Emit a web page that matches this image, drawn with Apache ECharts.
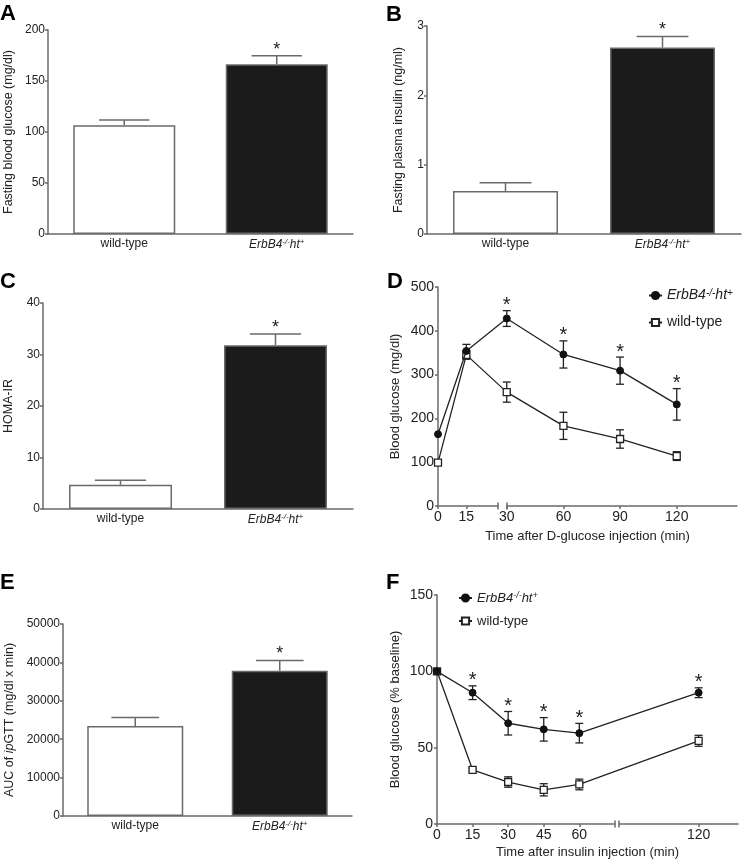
<!DOCTYPE html>
<html><head><meta charset="utf-8">
<script src="https://cdn.jsdelivr.net/npm/echarts@6/dist/echarts.min.js"></script>
<style>html,body{margin:0;padding:0;background:#fff}#c{width:742px;height:862px}</style>
</head><body><div id="c"></div>
<script>
// ---------------- data ----------------
const groups = ['wild-type', 'ErbB4-/-ht+'];
const barSig = [false, true];
const glucoseMean = [106.6, 166.4], glucoseErr = [5.2, 8.4];
const insulinMean = [0.62, 2.69], insulinErr = [0.12, 0.16];
const homaMean = [4.7, 31.8], homaErr = [0.9, 2.2];
const aucMean = [23450, 37820], aucErr = [2170, 2700];

const gttTimes = [0, 15, 30, 60, 90, 120];
const gttErb = [164, 354, 428, 346, 309, 232];
const gttErbErr = [0, 15, 18, 31, 31, 36];
const gttWT = [99, 345, 260, 183, 153, 114];
const gttWTErr = [0, 10, 23, 31, 21, 10];
const gttSig = [false, false, true, true, true, true];
const gttTicks = [0, 15, 30, 60, 90, 120];

const ittTimes = [0, 15, 30, 45, 60, 120];
const ittErb = [100, 86, 66, 62, 59.5, 86];
const ittErbErr = [0, 4.5, 7.7, 7.7, 6.4, 3.2];
const ittWT = [100, 35.5, 27.5, 22.4, 25.9, 54.5];
const ittWTErr = [0, 1, 3.4, 4, 3.5, 3.6];
const ittSig = [false, true, true, true, true, true];
const ittTicks = [0, 15, 30, 45, 60, 120];

// broken time axes: times after the break point are drawn shifted
const gttBreak = { at: 15, shift: 6.4 };
const ittBreak = { at: 60, shift: -9.7 };
function brk(b, t) { return t > b.at ? t + b.shift : t; }

// ---------------- styling helpers ----------------
const FONT = '"Liberation Sans", Arial, Helvetica, sans-serif';
const AX = '#6a6a6a', TXT = '#222', LINE = '#222';
const grids = [], xAxes = [], yAxes = [], series = [];
function addGrid(g) { grids.push(Object.assign({ containLabel: false, outerBoundsMode: 'none' }, g)); return grids.length - 1; }
const erbRich = '{i|ErbB4}{s|-/-}{i|ht}{s|+}';
function richFor(fs) {
  return {
    i: { fontStyle: 'italic', fontSize: fs, fontFamily: FONT, color: TXT },
    s: { fontStyle: 'italic', fontSize: Math.round(fs * 0.68), fontFamily: FONT, color: TXT, verticalAlign: 'top', padding: [0, 0, 5, 0] }
  };
}
const axLine = { show: true, lineStyle: { color: AX, width: 1.5 } };
const axTick = { show: true, length: 3, lineStyle: { color: AX, width: 1.5 } };

function barErr(params, api) {
  const i = api.value(0), m = api.value(1), e = api.value(2), s = api.value(3);
  const p0 = api.coord([i, m]), p1 = api.coord([i, m + e]);
  const half = api.size([1, 0])[0] * 0.165;
  const st = { stroke: AX, lineWidth: 1.5 };
  const ch = [
    { type: 'line', shape: { x1: p0[0], y1: p0[1], x2: p1[0], y2: p1[1] }, style: st },
    { type: 'line', shape: { x1: p1[0] - half, y1: p1[1], x2: p1[0] + half, y2: p1[1] }, style: st }
  ];
  if (s) ch.push({ type: 'text', x: p1[0], y: p1[1] + 3, style: { text: '*', fontSize: 18, fontFamily: FONT, fill: TXT, align: 'center', verticalAlign: 'bottom' } });
  return { type: 'group', children: ch };
}
function lineErr(params, api) {
  const x = api.value(0), m = api.value(1), e = api.value(2), s = api.value(3);
  const pt = api.coord([x, m + e]), pb = api.coord([x, m - e]);
  const st = { stroke: LINE, lineWidth: 1.3 };
  const ch = [];
  if (e > 0) {
    ch.push({ type: 'line', shape: { x1: pt[0], y1: pt[1], x2: pb[0], y2: pb[1] }, style: st });
    ch.push({ type: 'line', shape: { x1: pt[0] - 4, y1: pt[1], x2: pt[0] + 4, y2: pt[1] }, style: st });
    ch.push({ type: 'line', shape: { x1: pb[0] - 4, y1: pb[1], x2: pb[0] + 4, y2: pb[1] }, style: st });
  }
  if (s) ch.push({ type: 'text', x: pt[0], y: pt[1] + 5, style: { text: '*', fontSize: 20, fontFamily: FONT, fill: TXT, align: 'center', verticalAlign: 'bottom' } });
  return { type: 'group', children: ch };
}

function barPanel(box, yMax, yInt, yName, nameGap, means, errs, barW, nameRich) {
  const g = addGrid(box);
  xAxes.push({
    type: 'category', gridIndex: g, data: groups, axisLine: axLine, axisTick: { show: false },
    axisLabel: { interval: 0, color: TXT, fontFamily: FONT, fontSize: 12, margin: 4, formatter: v => v === groups[1] ? erbRich : v, rich: richFor(12) }
  });
  const xi = xAxes.length - 1;
  yAxes.push({
    type: 'value', gridIndex: g, min: 0, max: yMax, interval: yInt, splitLine: { show: false },
    axisLine: axLine, axisTick: axTick,
    axisLabel: { color: TXT, fontFamily: FONT, fontSize: 12, margin: 3, formatter: v => String(v) },
    name: yName, nameLocation: 'middle', nameGap: nameGap,
    nameTextStyle: { color: TXT, fontFamily: FONT, fontSize: 12.5, rich: nameRich || {} }
  });
  const yi = yAxes.length - 1;
  series.push({
    type: 'bar', xAxisIndex: xi, yAxisIndex: yi, barWidth: barW, animation: false,
    data: means.map((m, i) => ({ value: m, itemStyle: { color: i ? '#1b1b1b' : '#fff', borderColor: AX, borderWidth: 1.5 } }))
  });
  series.push({
    type: 'custom', xAxisIndex: xi, yAxisIndex: yi, z: 3, animation: false, renderItem: barErr,
    data: means.map((m, i) => [i, m, errs[i], barSig[i] ? 1 : 0])
  });
}

function linePanel(box, segs, xMax, ticks, b, yMax, yInt, yName, yNameGap, xName, xNameGap, times, erb, erbErr, wt, wtErr, sig) {
  const g = addGrid(box);
  const tickPos = ticks.map(t => brk(b, t));
  xAxes.push({
    type: 'value', gridIndex: g, min: 0, max: xMax, splitLine: { show: false },
    axisLine: { show: false },
    axisTick: { show: true, length: 3, lineStyle: { color: AX, width: 1.5 }, customValues: tickPos },
    axisLabel: {
      color: TXT, fontFamily: FONT, fontSize: 14, margin: 4, customValues: tickPos,
      formatter: v => { const k = tickPos.findIndex(p => Math.abs(p - v) < 1e-6); return k < 0 ? '' : String(ticks[k]); }
    },
    name: xName, nameLocation: 'middle', nameGap: xNameGap,
    nameTextStyle: { color: TXT, fontFamily: FONT, fontSize: 13 }
  });
  const xi = xAxes.length - 1;
  yAxes.push({
    type: 'value', gridIndex: g, min: 0, max: yMax, interval: yInt, splitLine: { show: false },
    axisLine: axLine, axisTick: axTick,
    axisLabel: { color: TXT, fontFamily: FONT, fontSize: 14, margin: 4 },
    name: yName, nameLocation: 'middle', nameGap: yNameGap,
    nameTextStyle: { color: TXT, fontFamily: FONT, fontSize: 13 }
  });
  const yi = yAxes.length - 1;
  // broken axis line segments
  segs.forEach((s, k) => {
    const sg = addGrid({ left: s.left, width: s.width, top: box.top, height: box.height });
    xAxes.push({
      type: 'value', gridIndex: sg, min: 0, max: 1, splitLine: { show: false }, axisTick: { show: false }, axisLabel: { show: false },
      axisLine: { show: true, lineStyle: { color: AX, width: 1.5 }, symbol: k === 0 ? ['none', 'rect'] : ['rect', 'none'], symbolSize: [7, 1.5] }
    });
    yAxes.push({ type: 'value', gridIndex: sg, min: 0, max: 1, show: false });
  });
  const wtName = groups[0], erbName = groups[1];
  series.push({
    type: 'custom', xAxisIndex: xi, yAxisIndex: yi, z: 1, animation: false, renderItem: lineErr,
    data: times.map((t, i) => [brk(b, t), wt[i], wtErr[i], 0])
  });
  series.push({
    type: 'custom', xAxisIndex: xi, yAxisIndex: yi, z: 1, animation: false, renderItem: lineErr,
    data: times.map((t, i) => [brk(b, t), erb[i], erbErr[i], sig[i] ? 1 : 0])
  });
  series.push({
    type: 'line', name: wtName, xAxisIndex: xi, yAxisIndex: yi, z: 2, animation: false,
    data: times.map((t, i) => [brk(b, t), wt[i]]),
    symbol: 'rect', symbolSize: 7, lineStyle: { color: LINE, width: 1.3 },
    itemStyle: { color: '#fff', borderColor: LINE, borderWidth: 1.3 }
  });
  series.push({
    type: 'line', name: erbName, xAxisIndex: xi, yAxisIndex: yi, z: 3, animation: false,
    data: times.map((t, i) => [brk(b, t), erb[i]]),
    symbol: 'circle', symbolSize: 7, lineStyle: { color: LINE, width: 1.3 },
    itemStyle: { color: '#111', borderColor: '#111', borderWidth: 1 }
  });
}

// ---------------- panels ----------------
barPanel({ left: 48, top: 30, width: 305, height: 204 }, 200, 50, 'Fasting blood glucose (mg/dl)', 33, glucoseMean, glucoseErr, 102);
barPanel({ left: 427, top: 26, width: 314, height: 208 }, 3, 1, 'Fasting plasma insulin (ng/ml)', 22, insulinMean, insulinErr, 105);
barPanel({ left: 43, top: 303, width: 310, height: 206 }, 40, 10, 'HOMA-IR', 28, homaMean, homaErr, 103);
barPanel({ left: 63, top: 624, width: 289, height: 192 }, 50000, 10000, '{n|AUC of }{it|ip}{n|GTT (mg/dl x min)}', 47, aucMean, aucErr, 96,
  { n: { fontFamily: FONT, fontSize: 12.5, color: TXT }, it: { fontFamily: FONT, fontSize: 12.5, color: TXT, fontStyle: 'italic' } });

linePanel({ left: 438, top: 287, width: 299, height: 219 },
  [{ left: 438, width: 60 }, { left: 507, width: 230 }], 158.3, gttTicks, gttBreak,
  500, 100, 'Blood glucose (mg/dl)', 36, 'Time after D-glucose injection (min)', 24,
  gttTimes, gttErb, gttErbErr, gttWT, gttWTErr, gttSig);

linePanel({ left: 437, top: 595, width: 301, height: 229 },
  [{ left: 437, width: 178 }, { left: 619, width: 119 }], 126.9, ittTicks, ittBreak,
  150, 50, 'Blood glucose (% baseline)', 35, 'Time after insulin injection (min)', 22,
  ittTimes, ittErb, ittErbErr, ittWT, ittWTErr, ittSig);

const legendFmt = n => n === groups[1] ? erbRich : n;
const legends = [
  { left: 643, top: 283, itemGap: 13, fs: 14 },
  { left: 453, top: 586, itemGap: 10, fs: 13 }
].map(l => ({
  orient: 'vertical', left: l.left, top: l.top, itemGap: l.itemGap, itemWidth: 13, itemHeight: 9,
  data: [groups[1], groups[0]], formatter: legendFmt, selectedMode: false,
  textStyle: { color: TXT, fontFamily: FONT, fontSize: l.fs, rich: richFor(l.fs) }
}));

const panelLabels = [['A', 0, 3], ['B', 386, 4], ['C', 0, 271], ['D', 387, 271], ['E', 0, 572], ['F', 386, 572]];

const chart = echarts.init(document.getElementById('c'), null, { renderer: 'canvas' });
chart.setOption({
  animation: false,
  backgroundColor: '#fff',
  grid: grids, xAxis: xAxes, yAxis: yAxes, series: series, legend: legends,
  graphic: panelLabels.map(p => ({ type: 'text', left: p[1], top: p[2], style: { text: p[0], font: 'bold 22px ' + FONT, fill: '#000' } }))
});
</script></body></html>
